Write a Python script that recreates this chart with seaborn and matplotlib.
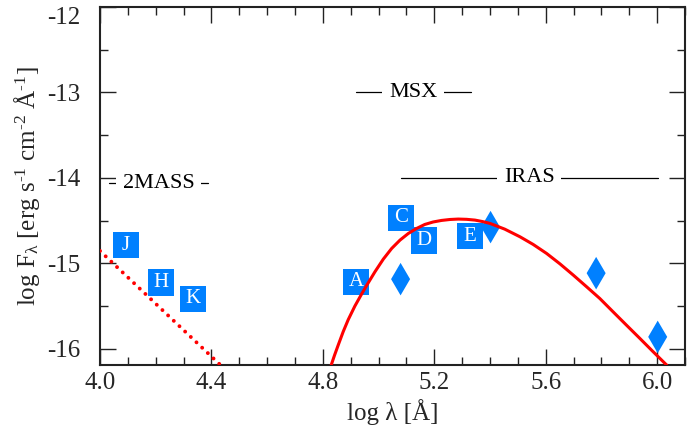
import numpy as np
import pandas as pd
import matplotlib
matplotlib.use("Agg")
import matplotlib.pyplot as plt
import seaborn as sns
from matplotlib.ticker import MultipleLocator

# ---------------- data ----------------
phot_labels = ["J", "H", "K", "A", "C", "D", "E"]
phot_x = [4.094, 4.219, 4.333, 4.920, 5.080, 5.162, 5.329]
phot_y = [-14.789, -15.224, -15.417, -15.217, -14.468, -14.732, -14.681]

iras_x = [5.079, 5.402, 5.781, 6.002]
iras_y = [-15.185, -14.576, -15.115, -15.861]

fit_x = [4.829, 4.842, 4.855, 4.873, 4.891, 4.915, 4.939, 4.957, 4.987, 5.017,
         5.047, 5.077, 5.107, 5.137, 5.166, 5.196, 5.226, 5.256, 5.286, 5.316,
         5.346, 5.373, 5.400, 5.453, 5.508, 5.555, 5.603, 5.651, 5.699, 5.747,
         5.794, 5.842, 5.890, 5.938, 5.986, 6.034]
fit_y = [-16.20, -16.075, -15.958, -15.80, -15.66, -15.50, -15.36, -15.26,
         -15.099, -14.951, -14.826, -14.728, -14.650, -14.591, -14.545, -14.516,
         -14.498, -14.487, -14.482, -14.485, -14.494, -14.511, -14.533, -14.600,
         -14.690, -14.779, -14.884, -15.006, -15.138, -15.275, -15.411, -15.568,
         -15.724, -15.879, -16.036, -16.19]

star_x = [4.0, 4.44]
star_y = [-14.855, -16.214]

survey_names = ["2MASS", "MSX", "IRAS"]
survey_x0 = [4.032, 4.919, 5.079]
survey_x1 = [4.388, 5.330, 6.002]
survey_y = [-14.06, -13.0, -14.0]

xticks = [4.0, 4.4, 4.8, 5.2, 5.6, 6.0]
xtick_labels = ["4.0", "4.4", "4.8", "5.2", "5.6", "6.0"]
yticks = [-12, -13, -14, -15, -16]
ytick_labels = ["-12", "-13", "-14", "-15", "-16"]

# ---------------- style ----------------
sns.set_theme(style="ticks")
plt.rcParams.update({
    "font.family": ["Liberation Serif", "DejaVu Serif"],
    "mathtext.fontset": "custom",
    "mathtext.rm": "Liberation Serif",
    "mathtext.it": "Liberation Serif:italic",
    "mathtext.bf": "Liberation Serif:bold",
    "axes.unicode_minus": False,
})

BLUE = "#0080ff"
RED = "#ff0000"

fig = plt.figure(figsize=(6.97, 4.32), dpi=100)
ax = fig.add_axes([100 / 697, 1 - 365 / 432, 585 / 697, 358 / 432])

df_phot = pd.DataFrame({"x": phot_x, "y": phot_y, "lab": phot_labels})
df_iras = pd.DataFrame({"x": iras_x, "y": iras_y})
df_fit = pd.DataFrame({"x": fit_x, "y": fit_y})
df_star = pd.DataFrame({"x": star_x, "y": star_y})

# squares with letters
sns.scatterplot(data=df_phot, x="x", y="y", marker="s", s=19.0 ** 2,
                color=BLUE, edgecolor="none", linewidth=0, ax=ax, zorder=3)
for _, r in df_phot.iterrows():
    ax.text(r["x"], r["y"], r["lab"], color="white", fontsize=15,
            ha="center", va="center", zorder=4)

# diamonds
diamond = [(0, 1), (0.585, 0), (0, -1), (-0.585, 0), (0, 1)]
sns.scatterplot(data=df_iras, x="x", y="y", marker=diamond, s=23.4 ** 2,
                color=BLUE, edgecolor="none", linewidth=0, ax=ax, zorder=3)

# fitted curve
sns.lineplot(data=df_fit, x="x", y="y", sort=False, estimator=None,
             color=RED, linewidth=2.2, ax=ax, zorder=5)

# dotted stellar line
sns.lineplot(data=df_star, x="x", y="y", sort=False, estimator=None,
             color=RED, linewidth=2.8, linestyle=(0, (0.01, 2.0)),
             dash_capstyle="round", ax=ax, zorder=5)

# survey ranges
for name, x0, x1, yy in zip(survey_names, survey_x0, survey_x1, survey_y):
    ax.plot([x0, x1], [yy, yy], color="black", linewidth=0.9, zorder=2)
    ax.text((x0 + x1) / 2, yy, name, fontsize=16, ha="center", va="center",
            color="black", zorder=2.5,
            bbox=dict(boxstyle="square,pad=0.3", facecolor="white",
                      edgecolor="none"))

# axes
ax.set_xlim(4.0, 6.1)
ax.set_ylim(-16.19, -12.0)
ax.set_xticks(xticks, xtick_labels)
ax.set_yticks(yticks, ytick_labels)
ax.xaxis.set_minor_locator(MultipleLocator(0.1))
ax.yaxis.set_minor_locator(MultipleLocator(0.5))
ax.tick_params(which="both", direction="in", top=True, right=True,
               color="#222222", width=1.0)
ax.tick_params(which="major", length=11.5, labelsize=18)
ax.tick_params(which="minor", length=6)
ax.tick_params(axis="y", pad=14)
ax.tick_params(axis="x", pad=5)
for sp in ax.spines.values():
    sp.set_linewidth(1.5)
    sp.set_color("#222222")
for lab in ax.get_yticklabels():
    if lab.get_text() == "-12":
        lab.set_va("top")

ax.set_xlabel("log λ [Å]", fontsize=18, labelpad=4)
ax.set_ylabel(r"log F$_{\mathrm{λ}}$ [erg s$^{\text{-1}}$ cm$^{\text{-2}}$ Å$^{\text{-1}}$]",
              fontsize=18, labelpad=4)

fig.savefig("out.png", dpi=100)
